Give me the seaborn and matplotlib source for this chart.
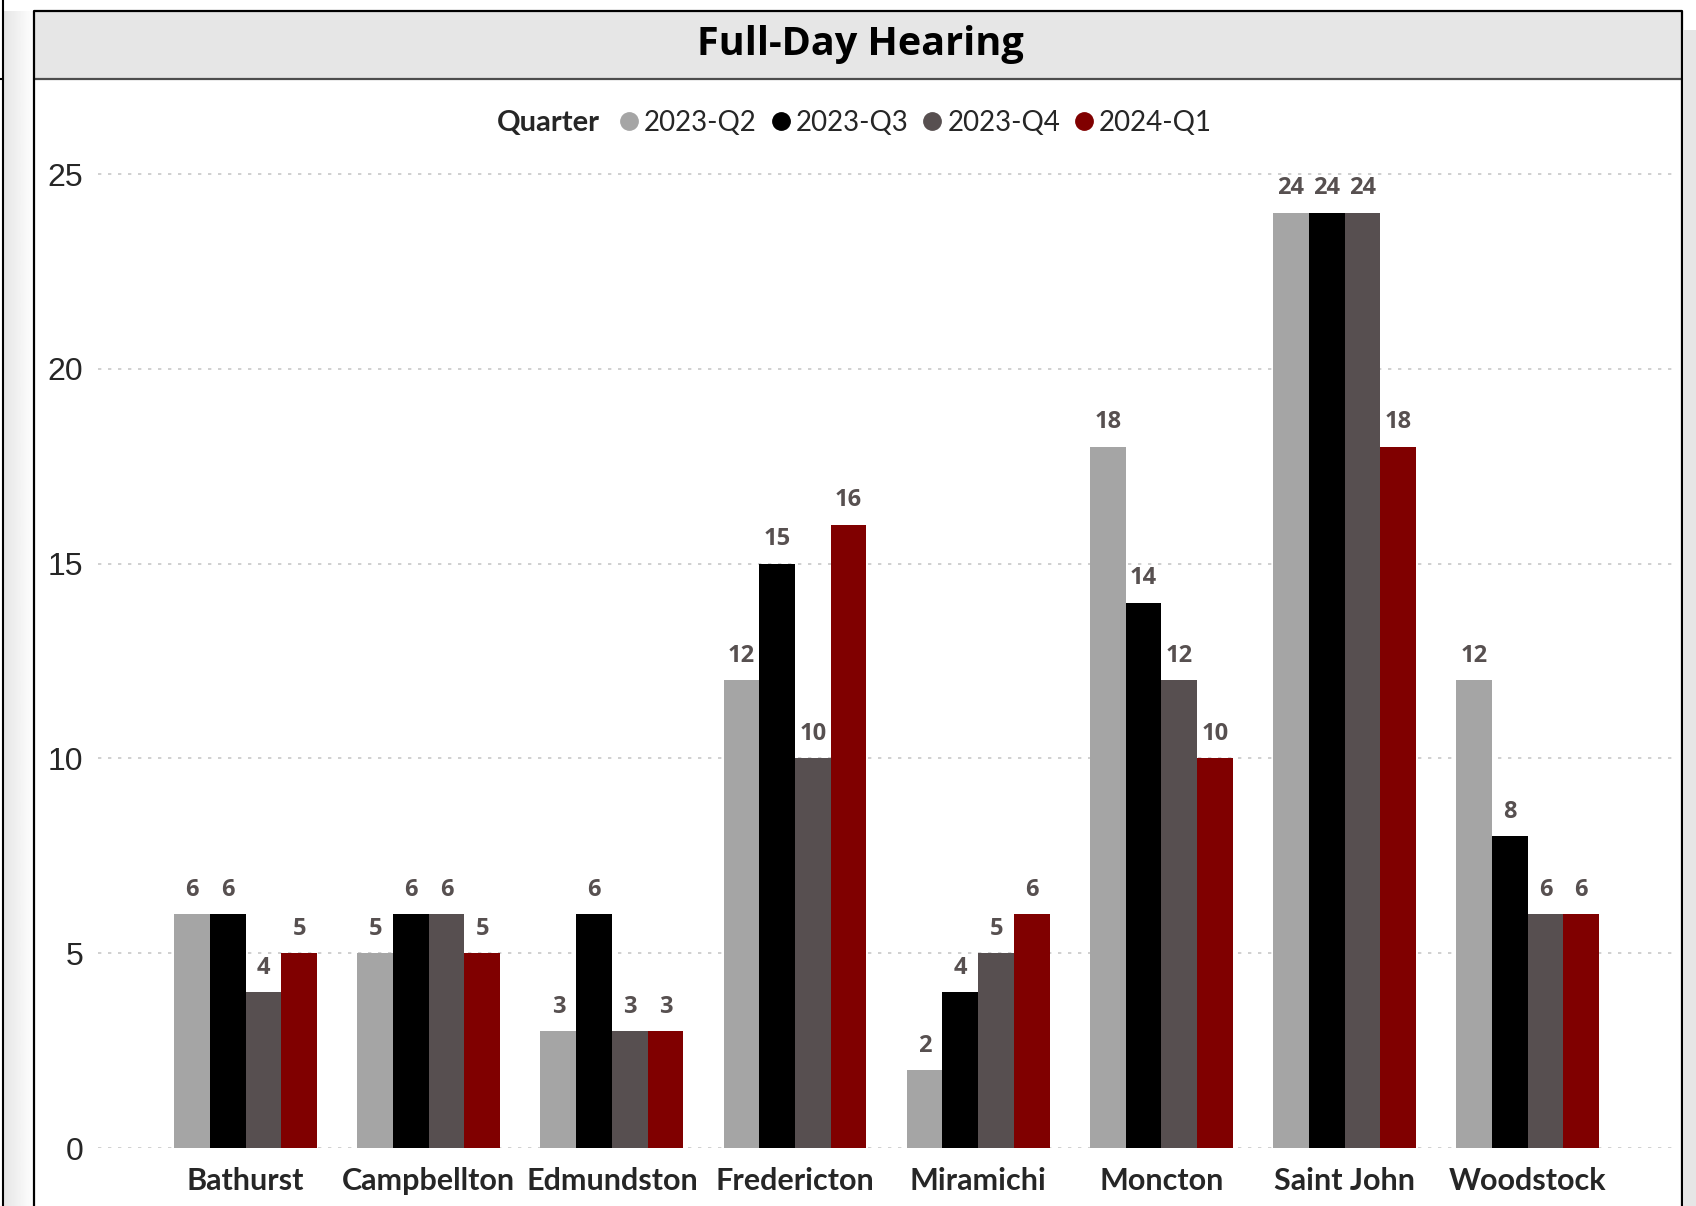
import numpy as np
import pandas as pd
import seaborn as sns
import matplotlib.pyplot as plt
from matplotlib.patches import Rectangle
from matplotlib.lines import Line2D

# data
cities = ['Bathurst', 'Campbellton', 'Edmundston', 'Fredericton',
          'Miramichi', 'Moncton', 'Saint John', 'Woodstock']
quarters = ['2023-Q2', '2023-Q3', '2023-Q4', '2024-Q1']
q2_2023 = [6, 5, 3, 12, 2, 18, 24, 12]
q3_2023 = [6, 6, 6, 15, 4, 14, 24, 8]
q4_2023 = [4, 6, 3, 10, 5, 12, 24, 6]
q1_2024 = [5, 5, 3, 16, 6, 10, 18, 6]
yticks = [0, 5, 10, 15, 20, 25]
colors = ['#A5A5A5', '#000000', '#574F50', '#800000']

df = pd.DataFrame({
    'City': cities * 4,
    'Quarter': [q for q in quarters for _ in cities],
    'Value': q2_2023 + q3_2023 + q4_2023 + q1_2024,
})

W, H = 1696, 1206
def fx(x):
    return x / W
def fy(y):
    return 1 - y / H

sns.set_theme(style='white')
plt.rcParams['font.family'] = ['Open Sans', 'DejaVu Sans']

fig = plt.figure(figsize=(W / 100, H / 100), dpi=100)
fig.patch.set_facecolor('white')

# card frame, title band, shadows
grad = fig.add_axes([fx(4), 0, fx(30), fy(11)], zorder=0)
grad.imshow(np.linspace(0.90, 1.0, 50)[None, :], cmap='gray', vmin=0, vmax=1,
            aspect='auto', extent=[0, 1, 0, 1])
grad.axis('off')
fig.add_artist(Line2D([fx(3), fx(3)], [0, 1], transform=fig.transFigure,
                      color='black', lw=1.5))
fig.add_artist(Line2D([0, fx(3)], [fy(79), fy(79)], transform=fig.transFigure,
                      color='black', lw=1.5))
fig.patches.append(Rectangle((fx(1684), 0), fx(W - 1684), fy(30), transform=fig.transFigure,
                             facecolor='#E6E6E6', edgecolor='none', zorder=0))
fig.patches.append(Rectangle((fx(34), fy(79)), fx(1682 - 34), fy(11) - fy(79),
                             transform=fig.transFigure, facecolor='#E6E6E6',
                             edgecolor='none', zorder=0))
fig.add_artist(Line2D([fx(34), fx(1682)], [fy(79), fy(79)], transform=fig.transFigure,
                      color='#4D4D4D', lw=1.6))
fig.add_artist(Line2D([fx(34), fx(34), fx(1682), fx(1682)], [0, fy(11), fy(11), 0],
                      transform=fig.transFigure, color='black', lw=1.6))

fig.text(fx(860), fy(45), 'Full-Day Hearing', ha='center', va='center',
         fontsize=28.5, fontweight='bold', color='#000000')

# plot area
top_px, zero_px, grid25_px = 140, 1148, 174
ymax = 25 * (zero_px - top_px) / (zero_px - grid25_px)
ax = fig.add_axes([fx(98), fy(zero_px), fx(1676) - fx(98), fy(top_px) - fy(zero_px)])
ax.set_facecolor('none')

sns.barplot(data=df, x='City', y='Value', hue='Quarter', palette=colors,
            width=0.78, gap=0, saturation=1, errorbar=None, legend=False,
            linewidth=0, ax=ax)

for cont in ax.containers:
    ax.bar_label(cont, padding=9, fontsize=17, fontweight='bold', color='#575050')

ax.set_ylim(0, ymax)
ax.set_xlim(-0.806, 7.81)
ax.set_yticks(yticks)
ax.yaxis.grid(True, color='#C8C8C8', linestyle=(0, (2, 4)), lw=1.2)
ax.xaxis.grid(False)
ax.set_axisbelow(True)
for s in ax.spines.values():
    s.set_visible(False)
ax.set_xlabel('')
ax.set_ylabel('')
ax.tick_params(axis='y', length=0, pad=10.5, labelsize=23)
ax.tick_params(axis='x', length=0, pad=13.5)
for t in ax.get_yticklabels():
    t.set_fontfamily('Liberation Sans')
for t in ax.get_xticklabels():
    t.set_fontfamily('Lato')
    t.set_fontweight('bold')
    t.set_fontsize(22)

# legend
handles = [Line2D([], [], marker='o', ls='', color=c, markersize=12.5) for c in colors]
leg = fig.legend(handles, quarters, ncol=4, loc='center', bbox_to_anchor=(fx(915), fy(123)),
                 frameon=False, handlelength=0.8, handletextpad=0.15, columnspacing=0.45,
                 borderpad=0, prop={'family': 'Lato', 'size': 20})
fig.text(fx(600), fy(123), 'Quarter', ha='right', va='center', fontsize=21,
         fontweight='bold', family='Lato')

fig.savefig('out.png', dpi=100)
